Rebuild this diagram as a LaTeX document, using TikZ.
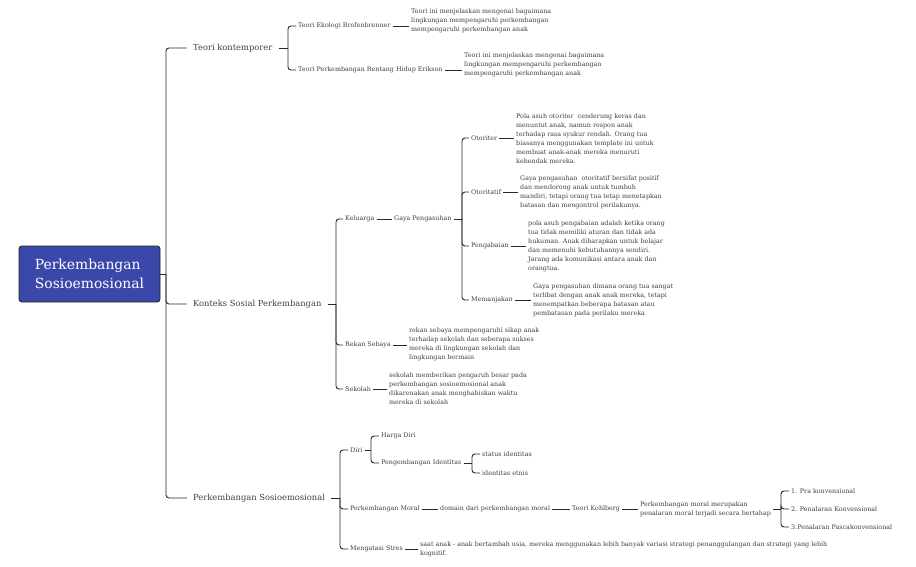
\documentclass[tikz,border=0pt]{standalone}
\usepackage{fontspec}
\setmainfont{DejaVu Serif}
\usepackage{xcolor}
\definecolor{rootblue}{RGB}{58,72,170}
\definecolor{lncol}{RGB}{40,40,40}
\definecolor{txtcol}{RGB}{64,64,64}

\tikzset{
  lbl/.style={anchor=west, inner xsep=2pt, inner ysep=1pt, text=txtcol, font=\fontsize{6.35}{9}\selectfont},
  desc/.style={lbl, align=left},
  topic/.style={anchor=west, inner xsep=6pt, inner ysep=1pt, text=txtcol, font=\fontsize{8.35}{10}\selectfont},
  link/.style={draw=lncol, line width=0.9pt, rounded corners=3pt},
}

\begin{document}
\begin{tikzpicture}[x=1pt,y=-1pt]
\useasboundingbox (0,0) rectangle (916,567);

% root
\node (root) at (89.5,274) [draw=black!85, fill=rootblue, rounded corners=3pt, line width=0.9pt, minimum width=141pt, minimum height=56pt, text=white, align=left, font=\fontsize{13.9}{19}\selectfont] {Perkembangan\\Sosioemosional};

% main branches
\node (tk) at (187,48) [topic] {Teori kontemporer};
\node (ks) at (187,304) [topic] {Konteks Sosial Perkembangan};
\node (ps) at (187,498) [topic] {Perkembangan Sosioemosional};

% teori kontemporer
\node (teb) at (296,26) [lbl] {Teori Ekologi Brofenbrenner};
\node (teb-d) at (409,21) [desc] {Teori ini menjelaskan mengenai bagaimana\\lingkungan mempengaruhi perkembangan\\mempengaruhi perkembangan anak};
\node (tpe) at (296,70) [lbl] {Teori Perkembangan Rentang Hidup Erikson};
\node (tpe-d) at (462,65) [desc] {Teori ini menjelaskan mengenai bagaimana\\lingkungan mempengaruhi perkembangan\\mempengaruhi perkembangan anak};

% konteks sosial
\node (kel) at (343,219) [lbl] {Keluarga};
\node (gp) at (392,219) [lbl] {Gaya Pengasuhan};
\node (oto) at (469,138) [lbl] {Otoriter};
\node (oto-d) at (514,138.5) [desc] {Pola asuh otoriter\ \ cenderung keras dan\\menuntut anak, namun respon anak\\terhadap rasa syukur rendah. Orang tua\\biasanya menggunakan template ini untuk\\membuat anak-anak mereka menuruti\\kehendak mereka.};
\node (otf) at (469,192) [lbl] {Otoritatif};
\node (otf-d) at (518,192.5) [desc] {Gaya pengasuhan\ \ otoritatif bersifat positif\\dan mendorong anak untuk tumbuh\\mandiri, tetapi orang tua tetap menetapkan\\batasan dan mengontrol perilakunya.};
\node (pgb) at (469,246) [lbl] {Pengabaian};
\node (pgb-d) at (526,246.5) [desc] {pola asuh pengabaian adalah ketika orang\\tua tidak memiliki aturan dan tidak ada\\hukuman. Anak diharapkan untuk belajar\\dan memenuhi kebutuhannya sendiri.\\Jarang ada komunikasi antara anak dan\\orangtua.};
\node (mmj) at (469,300) [lbl] {Memanjakan};
\node (mmj-d) at (531,300.5) [desc] {Gaya pengasuhan dimana orang tua sangat\\terlibat dengan anak anak mereka, tetapi\\menempatkan beberapa batasan atau\\pembatasan pada perilaku mereka};
\node (rs) at (343,345) [lbl] {Rekan Sebaya};
\node (rs-d) at (407,344.5) [desc] {rekan sebaya mempengaruhi sikap anak\\terhadap sekolah dan seberapa sukses\\mereka di lingkungan sekolah dan\\lingkungan bermain};
\node (sk) at (343,389) [lbl] {Sekolah};
\node (sk-d) at (387,388.5) [desc] {sekolah memberikan pengaruh besar pada\\perkembangan sosioemosional anak\\dikarenakan anak menghabiskan waktu\\mereka di sekolah};

% perkembangan sosioemosional
\node (diri) at (348,450) [lbl] {Diri};
\node (hd) at (379,436) [lbl] {Harga Diri};
\node (pi) at (379,463) [lbl] {Pengembangan Identitas};
\node (si) at (480,454) [lbl] {status identitas};
\node (ie) at (480,473) [lbl] {identitas etnis};
\node (pm) at (348,509) [lbl] {Perkembangan Moral};
\node (dom) at (438,509) [lbl] {domain dari perkembangan moral};
\node (kohl) at (570,509) [lbl] {Teori Kohlberg};
\node (kohl-d) at (638,509.5) [desc] {Perkembangan moral merupakan\\penalaran moral terjadi secara bertahap};
\node (pk1) at (789,491) [lbl] {1. Pra konvensional};
\node (pk2) at (789,509) [lbl] {2. Penalaran Konvensional};
\node (pk3) at (789,527) [lbl] {3.Penalaran Pascakonvensional};
\node (ms) at (348,549) [lbl] {Mengatasi Stres};
\node (ms-d) at (418,549.5) [desc] {saat anak - anak bertambah usia, mereka menggunakan lebih banyak variasi strategi penanggulangan dan strategi yang lebih\\kognitif.};

% bracket points
\coordinate (rootb) at (166,274);
\coordinate (tkb) at (288,48);
\coordinate (ksb) at (336,304);
\coordinate (gpb) at (462,219);
\coordinate (psb) at (340,498);
\coordinate (dirib) at (371,450);
\coordinate (pib) at (472,463);
\coordinate (kohlb) at (781,509);

\draw[link] (root.east) -- (rootb);
\draw[link] (rootb) |- (tk.west);
\draw[link] (rootb) |- (ks.west);
\draw[link] (rootb) |- (ps.west);

\draw[link] (tk.east) -- (tkb);
\draw[link] (tkb) |- (teb.west);
\draw[link] (tkb) |- (tpe.west);
\draw[link] (teb.east) -- (teb.east -| teb-d.west);
\draw[link] (tpe.east) -- (tpe.east -| tpe-d.west);

\draw[link] (ks.east) -- (ksb);
\draw[link] (ksb) |- (kel.west);
\draw[link] (ksb) |- (rs.west);
\draw[link] (ksb) |- (sk.west);
\draw[link] (kel.east) -- (gp.west);
\draw[link] (gp.east) -- (gpb);
\draw[link] (gpb) |- (oto.west);
\draw[link] (gpb) |- (otf.west);
\draw[link] (gpb) |- (pgb.west);
\draw[link] (gpb) |- (mmj.west);
\draw[link] (oto.east) -- (oto.east -| oto-d.west);
\draw[link] (otf.east) -- (otf.east -| otf-d.west);
\draw[link] (pgb.east) -- (pgb.east -| pgb-d.west);
\draw[link] (mmj.east) -- (mmj.east -| mmj-d.west);
\draw[link] (rs.east) -- (rs.east -| rs-d.west);
\draw[link] (sk.east) -- (sk.east -| sk-d.west);

\draw[link] (ps.east) -- (psb);
\draw[link] (psb) |- (diri.west);
\draw[link] (psb) |- (pm.west);
\draw[link] (psb) |- (ms.west);
\draw[link] (diri.east) -- (dirib);
\draw[link] (dirib) |- (hd.west);
\draw[link] (dirib) |- (pi.west);
\draw[link] (pi.east) -- (pib);
\draw[link] (pib) |- (si.west);
\draw[link] (pib) |- (ie.west);
\draw[link] (pm.east) -- (dom.west);
\draw[link] (dom.east) -- (kohl.west);
\draw[link] (kohl.east) -- (kohl.east -| kohl-d.west);
\draw[link] (kohl-d.east |- kohlb) -- (kohlb);
\draw[link] (kohlb) |- (pk1.west);
\draw[link] (kohlb) |- (pk2.west);
\draw[link] (kohlb) |- (pk3.west);
\draw[link] (ms.east) -- (ms.east -| ms-d.west);

\end{tikzpicture}
\end{document}
